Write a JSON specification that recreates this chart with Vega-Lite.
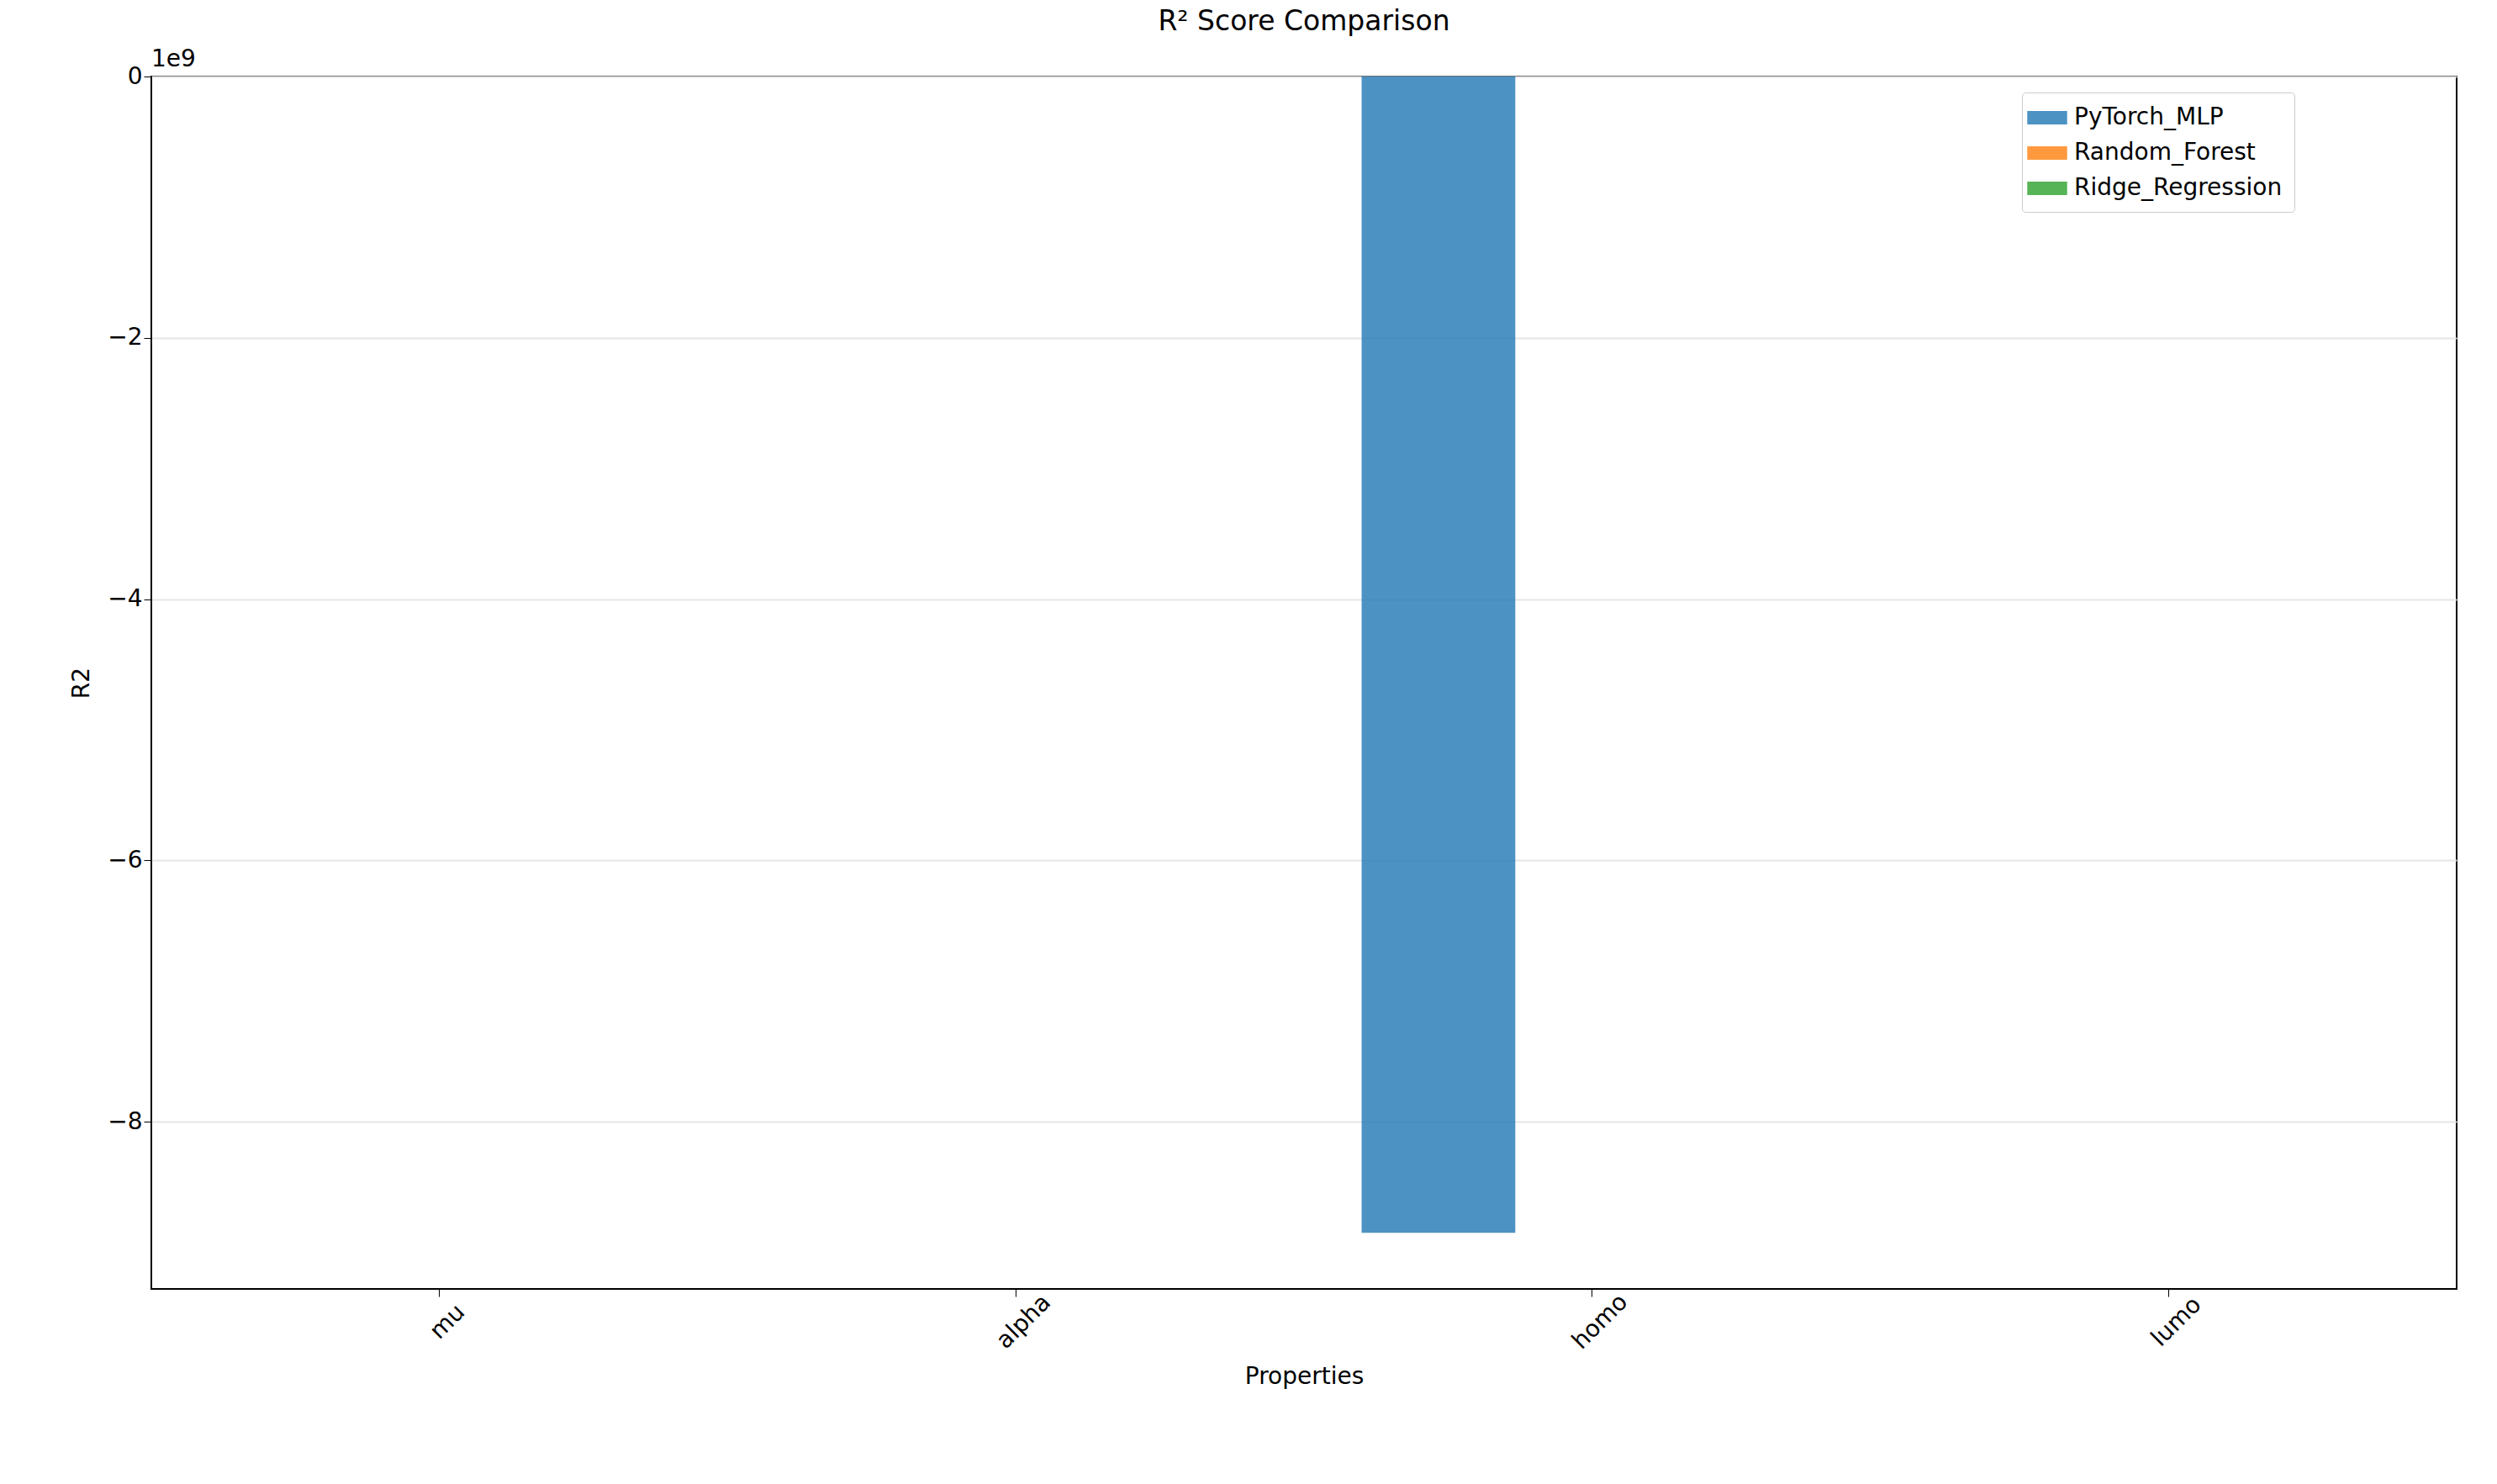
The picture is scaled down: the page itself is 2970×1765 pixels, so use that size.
{
"$schema":"https://vega.github.io/schema/vega-lite/v6.json",
"width":2742,"height":1442,
"autosize":{"type":"none"},
"padding":{"left":180,"top":91,"right":48,"bottom":232},
"background":"white",
"config":{"font":"DejaVu Sans","view":{"stroke":"black","strokeWidth":2}},
"title":{"text":"R² Score Comparison","fontSize":33,"fontWeight":"normal","font":"DejaVu Sans","color":"black","offset":14},
"data":{"values":[
{"prop":"mu","model":"PyTorch_MLP","r2":0.6},
{"prop":"mu","model":"Random_Forest","r2":0.5},
{"prop":"mu","model":"Ridge_Regression","r2":0.3},
{"prop":"alpha","model":"PyTorch_MLP","r2":0.9},
{"prop":"alpha","model":"Random_Forest","r2":0.9},
{"prop":"alpha","model":"Ridge_Regression","r2":0.8},
{"prop":"homo","model":"PyTorch_MLP","r2":-8850000000},
{"prop":"homo","model":"Random_Forest","r2":0.6},
{"prop":"homo","model":"Ridge_Regression","r2":0.4},
{"prop":"lumo","model":"PyTorch_MLP","r2":0.8},
{"prop":"lumo","model":"Random_Forest","r2":0.8},
{"prop":"lumo","model":"Ridge_Regression","r2":0.6}
]},
"layer":[
{"mark":{"type":"bar","opacity":0.8},
"encoding":{
"x":{"field":"prop","type":"nominal","sort":["mu","alpha","homo","lumo"],"scale":{"paddingInner":0.2,"paddingOuter":0.1},
"axis":{"title":"Properties","titleFontSize":28,"titleFontWeight":"normal","labelFontSize":28,"labelAngle":-45,"labelAlign":"center","labelBaseline":"top","labelPadding":20,"labelColor":"black","titleColor":"black","tickColor":"black","domainColor":"black","tickSize":9,"titlePadding":14}},
"xOffset":{"field":"model","type":"nominal"},
"y":{"field":"r2","type":"quantitative","scale":{"domain":[-9280000000,0],"nice":false},
"axis":{"title":"R2","titleFontSize":28,"titleFontWeight":"normal","labelFontSize":28,"labelColor":"black","titleColor":"black","tickColor":"black","domainColor":"black","tickSize":9,"values":[0,-2000000000,-4000000000,-6000000000,-8000000000],"labelExpr":"datum.value/1e9 == 0 ? '0' : '−' + abs(datum.value/1e9)","grid":true,"gridColor":"#e6e6e6","gridWidth":2,"titlePadding":16}},
"color":{"field":"model","type":"nominal","scale":{"domain":["PyTorch_MLP","Random_Forest","Ridge_Regression"],"range":["#1f77b4","#ff7f0e","#2ca02c"]},
"legend":{"title":null,"orient":"none","legendX":2225,"legendY":19,"labelFontSize":28,"labelLimit":0,"symbolType":"M-1.5,-0.5H1.5V0.5H-1.5Z","symbolSize":1000,"symbolStrokeWidth":0,"symbolOpacity":0.8,"labelColor":"black","labelOffset":16,"strokeColor":"#cccccc","padding":14,"rowPadding":12,"fillColor":"white","cornerRadius":4}}
}},
{"mark":{"type":"text","text":"1e9","fontSize":28,"align":"left","baseline":"bottom","dy":-6,"color":"black"},
"data":{"values":[{"v":0}]},
"encoding":{"y":{"field":"v","type":"quantitative"},"x":{"value":0}}}
]
}
